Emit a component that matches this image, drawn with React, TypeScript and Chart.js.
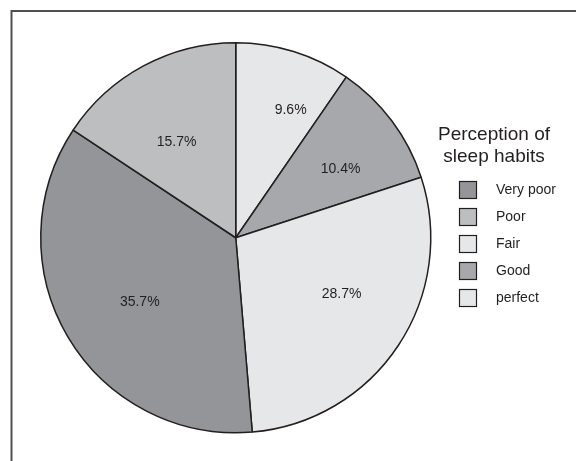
import React, { useEffect, useRef } from "react";
import { Chart, registerables } from "chart.js";

Chart.register(...registerables);

// Slices, clockwise from 12 o'clock
const sliceLabels = ["perfect", "Good", "Fair", "Very poor", "Poor"];
const sliceValues = [9.6, 10.4, 28.7, 35.7, 15.7];
const sliceColors = ["#e6e7e8", "#a7a8ab", "#e6e7e8", "#939598", "#bcbec0"];

// Legend reading order
const legendOrder = ["Very poor", "Poor", "Fair", "Good", "perfect"];
const legendTitle = ["Perception of", "sleep habits"];

// Hand placement tweaks for the percentage labels (px, relative to the slice's mid-radius point)
const labelOffsets: [number, number][] = [
  [19, -12],
  [8, 4],
  [5, -10],
  [8, 3],
  [-2, 11],
];

const FONT = "'Liberation Sans', Arial, Helvetica, sans-serif";
const INK = "#231f20";

const decorPlugin = {
  id: "sleepDecor",
  afterDatasetsDraw(chart: any) {
    const { ctx } = chart;
    const meta = chart.getDatasetMeta(0);
    const ds = chart.data.datasets[0];

    ctx.save();
    // value labels inside the slices
    ctx.font = `14px ${FONT}`;
    ctx.fillStyle = INK;
    ctx.textAlign = "center";
    ctx.textBaseline = "middle";
    meta.data.forEach((arc: any, i: number) => {
      const p = arc.getProps(["x", "y", "startAngle", "endAngle", "outerRadius"], true);
      const mid = (p.startAngle + p.endAngle) / 2;
      const r = p.outerRadius * 0.62;
      const [dx, dy] = labelOffsets[i] ?? [0, 0];
      const v = ds.data[i] as number;
      ctx.fillText(`${v.toFixed(1)}%`, p.x + Math.cos(mid) * r + dx, p.y + Math.sin(mid) * r + dy);
    });

    // legend title
    ctx.font = `19px ${FONT}`;
    ctx.fillStyle = INK;
    legendTitle.forEach((line, i) => {
      ctx.fillText(line, 494, 135 + i * 22);
    });

    // legend entries
    ctx.font = `14px ${FONT}`;
    ctx.textAlign = "left";
    legendOrder.forEach((name, i) => {
      const idx = chart.data.labels.indexOf(name);
      const cy = 190 + i * 27;
      ctx.fillStyle = ds.backgroundColor[idx];
      ctx.fillRect(459.5, cy - 8.5, 17, 17);
      ctx.strokeStyle = INK;
      ctx.lineWidth = 1.2;
      ctx.strokeRect(459.5, cy - 8.5, 17, 17);
      ctx.fillStyle = INK;
      ctx.fillText(name, 496, cy);
    });

    // outer frame (top and left edges)
    ctx.strokeStyle = "#505050";
    ctx.lineWidth = 2;
    ctx.beginPath();
    ctx.moveTo(576, 11);
    ctx.lineTo(11.5, 11);
    ctx.lineTo(11.5, 461);
    ctx.stroke();
    ctx.restore();
  },
};

export default function App() {
  const canvasRef = useRef<HTMLCanvasElement | null>(null);

  useEffect(() => {
    document.body.style.margin = "0";
    const canvas = canvasRef.current;
    if (!canvas) return;
    const chart = new Chart(canvas, {
      type: "pie",
      data: {
        labels: sliceLabels,
        datasets: [
          {
            data: sliceValues,
            backgroundColor: sliceColors,
            borderColor: INK,
            borderWidth: 1.5,
            borderAlign: "center",
          },
        ],
      },
      options: {
        responsive: false,
        animation: false,
        events: [],
        layout: { padding: { left: 40, right: 144.5, top: 42, bottom: 27.5 } },
        plugins: {
          legend: { display: false },
          tooltip: { enabled: false },
        },
      },
      plugins: [decorPlugin],
    });
    return () => chart.destroy();
  }, []);

  return (
    <div style={{ position: "absolute", left: 0, top: 0, width: 576, height: 461, background: "#fff" }}>
      <canvas ref={canvasRef} width={576} height={461} />
    </div>
  );
}
